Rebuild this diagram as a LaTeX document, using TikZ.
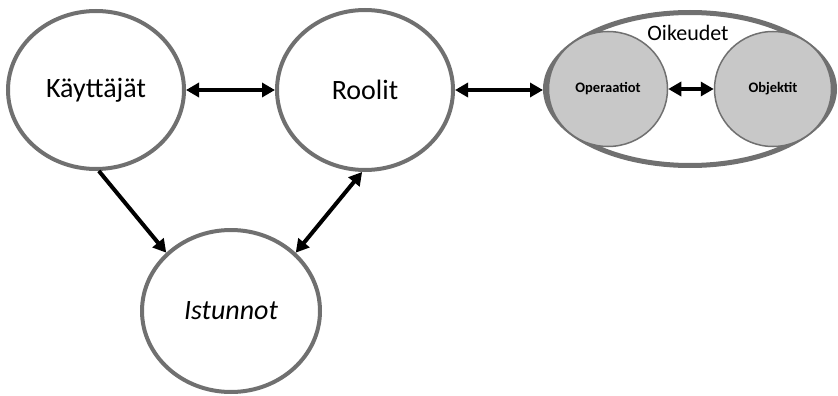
\documentclass[tikz,border=0pt]{standalone}
\usepackage{fontspec}
\setmainfont{Carlito}
\usetikzlibrary{shapes.geometric,arrows.meta}
\definecolor{rim}{HTML}{707070}
\definecolor{inner}{HTML}{C8C8C8}
\begin{document}
\begin{tikzpicture}[x=1pt,y=-1pt,
  bigset/.style={ellipse,draw=rim,line width=4pt,fill=white,inner sep=0pt,
    font=\fontsize{28}{32}\selectfont},
  subset/.style={ellipse,draw=rim,line width=1.5pt,fill=inner,inner sep=0pt,
    font=\fontsize{14.5}{17}\selectfont\bfseries},
  tip/.tip={Triangle[length=13pt,width=14pt]},
  link/.style={line width=4pt,tip-tip},
  onelink/.style={line width=4pt,-tip}]
\useasboundingbox (0,0) rectangle (838,396);

% user, role and session sets
\node[bigset,minimum width=176pt,minimum height=158pt] (k) at (96,90) {Käyttäjät};
\node[bigset,minimum width=176pt,minimum height=160pt] (r) at (365,90) {Roolit};
\node[bigset,minimum width=178pt,minimum height=162pt] (i) at (231,311) {\itshape Istunnot};

% permissions: operations on objects
\node[ellipse,draw=rim,line width=5pt,fill=white,minimum width=289pt,minimum height=153pt] (o) at (690,89) {};
\node[font=\fontsize{22}{25}\selectfont] (ol) at (688,33) {Oikeudet};
\node[subset,minimum width=119pt,minimum height=115pt] (op) at (608,89) {Operaatiot};
\node[subset,minimum width=117pt,minimum height=115pt] (ob) at (773,89) {Objektit};

% relations
\draw[link] (k.east) -- (r.west);
\draw[link] (r.east) -- (r.east -| o.west);
\draw[link] (op.east) -- (ob.west);
\draw[onelink] (k.-88) -- (i.138);
\draw[link] (r.-92) -- (i.42);
\end{tikzpicture}
\end{document}
